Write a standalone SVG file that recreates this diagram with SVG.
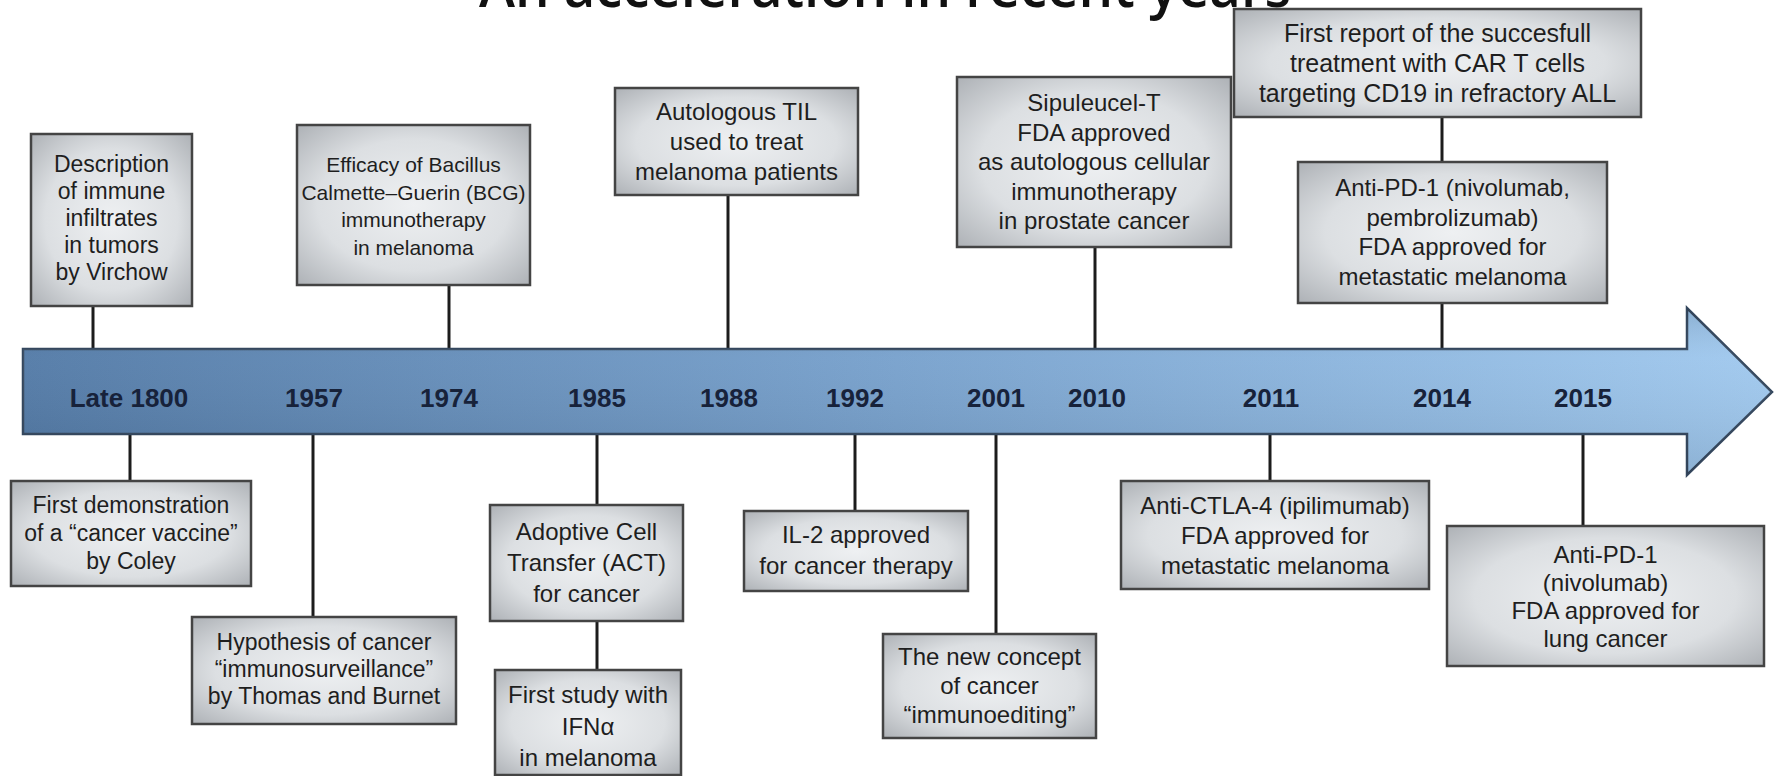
<svg xmlns="http://www.w3.org/2000/svg" width="1775" height="776" viewBox="0 0 1775 776">
<style>
.box{fill:url(#boxGrad);stroke:#444;stroke-width:2.5}
.t{font-family:"Liberation Sans",Arial,sans-serif;font-size:23px;fill:#1e1e1e;text-anchor:middle}
.yr{font-family:"Liberation Sans",Arial,sans-serif;font-size:26px;font-weight:bold;fill:#17223a;text-anchor:middle}
.title{font-family:"Open Sans","Liberation Sans",sans-serif;font-size:58px;font-weight:600;fill:#111;text-anchor:middle}
.conn line{stroke:#1c1c1c;stroke-width:3}
</style>
<defs>
<radialGradient id="boxGrad" cx="50%" cy="50%" r="75%">
<stop offset="0" stop-color="#eef0f2"/>
<stop offset="0.55" stop-color="#dcdfe2"/>
<stop offset="1" stop-color="#a6aaaf"/>
</radialGradient>
<linearGradient id="barGrad" x1="0" y1="0" x2="1" y2="0">
<stop offset="0" stop-color="#5179a6"/>
<stop offset="0.5" stop-color="#76a0cc"/>
<stop offset="1" stop-color="#9fc8ee"/>
</linearGradient>
<linearGradient id="barShade" x1="0" y1="0" x2="0" y2="1">
<stop offset="0" stop-color="#000" stop-opacity="0.12"/>
<stop offset="0.3" stop-color="#fff" stop-opacity="0.05"/>
<stop offset="1" stop-color="#000" stop-opacity="0.1"/>
</linearGradient>
</defs>
<rect width="1775" height="776" fill="#fff"/>
<text class="title" x="885" y="7" textLength="812" lengthAdjust="spacingAndGlyphs">An acceleration in recent years</text>

<g id="connectors" class="conn">
<line x1="93" y1="306" x2="93" y2="349"/>
<line x1="449" y1="285" x2="449" y2="349"/>
<line x1="728" y1="195" x2="728" y2="349"/>
<line x1="1095" y1="247" x2="1095" y2="349"/>
<line x1="1442" y1="117" x2="1442" y2="162"/>
<line x1="1442" y1="303" x2="1442" y2="349"/>
<line x1="130" y1="434" x2="130" y2="481"/>
<line x1="313" y1="434" x2="313" y2="617"/>
<line x1="597" y1="434" x2="597" y2="505"/>
<line x1="597" y1="621" x2="597" y2="670"/>
<line x1="855" y1="434" x2="855" y2="511"/>
<line x1="996" y1="434" x2="996" y2="634"/>
<line x1="1270" y1="434" x2="1270" y2="481"/>
<line x1="1583" y1="434" x2="1583" y2="526"/>
</g>

<g id="timeline">
<path d="M23,349 H1687 V308 L1772,392 L1687,475 V434 H23 Z" fill="url(#barGrad)" stroke="#34475e" stroke-width="2.5"/>
<path d="M23,349 H1687 V308 L1772,392 L1687,475 V434 H23 Z" fill="url(#barShade)"/>
<text class="yr" x="129" y="407">Late 1800</text>
<text class="yr" x="314" y="407">1957</text>
<text class="yr" x="449" y="407">1974</text>
<text class="yr" x="597" y="407">1985</text>
<text class="yr" x="729" y="407">1988</text>
<text class="yr" x="855" y="407">1992</text>
<text class="yr" x="996" y="407">2001</text>
<text class="yr" x="1097" y="407">2010</text>
<text class="yr" x="1271" y="407">2011</text>
<text class="yr" x="1442" y="407">2014</text>
<text class="yr" x="1583" y="407">2015</text>
</g>

<g id="n-virchow">
<rect class="box" x="31" y="134" width="161" height="172"/>
<text class="t" x="111.5" y="172">Description</text>
<text class="t" x="111.5" y="199">of immune</text>
<text class="t" x="111.5" y="226">infiltrates</text>
<text class="t" x="111.5" y="253">in tumors</text>
<text class="t" x="111.5" y="280">by Virchow</text>
</g>

<g id="n-bcg">
<rect class="box" x="297" y="125" width="233" height="160"/>
<text class="t" x="413.5" y="172" style="font-size:21px">Efficacy of Bacillus</text>
<text class="t" x="413.5" y="199.5" style="font-size:21px">Calmette–Guerin (BCG)</text>
<text class="t" x="413.5" y="227" style="font-size:21px">immunotherapy</text>
<text class="t" x="413.5" y="254.5" style="font-size:21px">in melanoma</text>
</g>

<g id="n-til">
<rect class="box" x="615" y="88" width="243" height="107"/>
<text class="t" x="736.5" y="120" style="font-size:24px">Autologous TIL</text>
<text class="t" x="736.5" y="150" style="font-size:24px">used to treat</text>
<text class="t" x="736.5" y="180" style="font-size:24px">melanoma patients</text>
</g>

<g id="n-sipuleucel">
<rect class="box" x="957" y="77" width="274" height="170"/>
<text class="t" x="1094" y="111" style="font-size:24px">Sipuleucel-T</text>
<text class="t" x="1094" y="140.5" style="font-size:24px">FDA approved</text>
<text class="t" x="1094" y="170" style="font-size:24px">as autologous cellular</text>
<text class="t" x="1094" y="199.5" style="font-size:24px">immunotherapy</text>
<text class="t" x="1094" y="229" style="font-size:24px">in prostate cancer</text>
</g>

<g id="n-cart">
<rect class="box" x="1234" y="9" width="407" height="108"/>
<text class="t" x="1437.5" y="42" style="font-size:25px">First report of the succesfull</text>
<text class="t" x="1437.5" y="72" style="font-size:25px">treatment with CAR T cells</text>
<text class="t" x="1437.5" y="102" style="font-size:25px">targeting CD19 in refractory ALL</text>
</g>

<g id="n-pd1-melanoma">
<rect class="box" x="1298" y="162" width="309" height="141"/>
<text class="t" x="1452.5" y="196" style="font-size:24px">Anti-PD-1 (nivolumab,</text>
<text class="t" x="1452.5" y="225.5" style="font-size:24px">pembrolizumab)</text>
<text class="t" x="1452.5" y="255" style="font-size:24px">FDA approved for</text>
<text class="t" x="1452.5" y="284.5" style="font-size:24px">metastatic melanoma</text>
</g>

<g id="n-coley">
<rect class="box" x="11" y="481" width="240" height="105"/>
<text class="t" x="131" y="513">First demonstration</text>
<text class="t" x="131" y="541">of a “cancer vaccine”</text>
<text class="t" x="131" y="569">by Coley</text>
</g>

<g id="n-immunosurveillance">
<rect class="box" x="192" y="617" width="264" height="107"/>
<text class="t" x="324" y="650">Hypothesis of cancer</text>
<text class="t" x="324" y="677">“immunosurveillance”</text>
<text class="t" x="324" y="704">by Thomas and Burnet</text>
</g>

<g id="n-act">
<rect class="box" x="490" y="505" width="193" height="116"/>
<text class="t" x="586.5" y="540" style="font-size:24px">Adoptive Cell</text>
<text class="t" x="586.5" y="571" style="font-size:24px">Transfer (ACT)</text>
<text class="t" x="586.5" y="602" style="font-size:24px">for cancer</text>
</g>

<g id="n-ifn">
<rect class="box" x="495" y="670" width="186" height="105"/>
<text class="t" x="588" y="703" style="font-size:24px">First study with</text>
<text class="t" x="588" y="735" style="font-size:24px">IFNα</text>
<text class="t" x="588" y="766" style="font-size:24px">in melanoma</text>
</g>

<g id="n-il2">
<rect class="box" x="744" y="511" width="224" height="80"/>
<text class="t" x="856" y="543" style="font-size:24px">IL-2 approved</text>
<text class="t" x="856" y="574" style="font-size:24px">for cancer therapy</text>
</g>

<g id="n-immunoediting">
<rect class="box" x="883" y="634" width="213" height="104"/>
<text class="t" x="989.5" y="665" style="font-size:24px">The new concept</text>
<text class="t" x="989.5" y="694" style="font-size:24px">of cancer</text>
<text class="t" x="989.5" y="723" style="font-size:24px">“immunoediting”</text>
</g>

<g id="n-ctla4">
<rect class="box" x="1121" y="481" width="308" height="108"/>
<text class="t" x="1275" y="514" style="font-size:24px">Anti-CTLA-4 (ipilimumab)</text>
<text class="t" x="1275" y="544" style="font-size:24px">FDA approved for</text>
<text class="t" x="1275" y="574" style="font-size:24px">metastatic melanoma</text>
</g>

<g id="n-pd1-lung">
<rect class="box" x="1447" y="526" width="317" height="140"/>
<text class="t" x="1605.5" y="563" style="font-size:24px">Anti-PD-1</text>
<text class="t" x="1605.5" y="591" style="font-size:24px">(nivolumab)</text>
<text class="t" x="1605.5" y="619" style="font-size:24px">FDA approved for</text>
<text class="t" x="1605.5" y="647" style="font-size:24px">lung cancer</text>
</g>
</svg>
